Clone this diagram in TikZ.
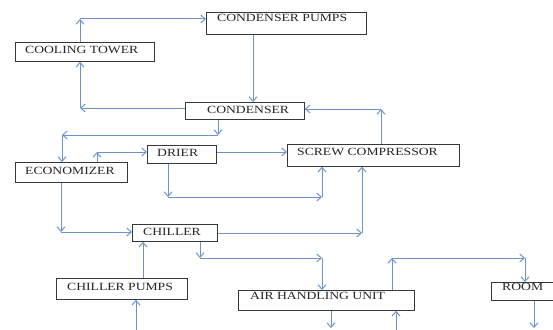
\documentclass[tikz,border=0pt]{standalone}
\usepackage{fontspec}
\setmainfont{Liberation Serif}[FakeStretch=1.24]
\usetikzlibrary{arrows.meta}
\definecolor{lc}{RGB}{110,148,204}
\definecolor{bc}{RGB}{55,55,55}
\tikzset{
  box/.style={draw=bc, line width=0.8pt, anchor=north west, inner sep=0pt},
  lbl/.style={anchor=base west, inner sep=0pt, text=black!85, font=\fontsize{11}{13}\selectfont},
  arr/.style={draw=lc, line width=1pt, -{Straight Barb[length=4.5pt,width=8pt]}}
}
\begin{document}
\begin{tikzpicture}[x=1pt,y=-1pt]
\useasboundingbox (0,0) rectangle (553,329);
\clip (0,0) rectangle (553,329);
\fill[white] (0,0) rectangle (553,329);
% boxes
\node[box, minimum width=160pt, minimum height=22pt] (cp) at (206,12) {};
\node[lbl] (cpt) at ([xshift=11pt,yshift=-10pt]cp.north west) {CONDENSER PUMPS};
\node[box, minimum width=139pt, minimum height=19pt] (ct) at (15,42) {};
\node[lbl] (ctt) at ([xshift=10pt,yshift=-11.5pt]ct.north west) {COOLING TOWER};
\node[box, minimum width=119pt, minimum height=17pt] (cond) at (185,102) {};
\node[lbl] (condt) at ([xshift=22pt,yshift=-11pt]cond.north west) {CONDENSER};
\node[box, minimum width=69pt, minimum height=18pt] (drier) at (147,145) {};
\node[lbl] (driert) at ([xshift=10pt,yshift=-11pt]drier.north west) {DRIER};
\node[box, minimum width=172pt, minimum height=22pt] (screw) at (287,144) {};
\node[lbl] (screwt) at ([xshift=10pt,yshift=-11.5pt]screw.north west) {SCREW COMPRESSOR};
\node[box, minimum width=112pt, minimum height=20pt] (econ) at (15,162) {};
\node[lbl] (econt) at ([xshift=10pt,yshift=-12.5pt]econ.north west) {ECONOMIZER};
\node[box, minimum width=85pt, minimum height=17pt] (chiller) at (132,224) {};
\node[lbl] (chillert) at ([xshift=11pt,yshift=-11pt]chiller.north west) {CHILLER};
\node[box, minimum width=131pt, minimum height=21pt] (cpumps) at (56,278) {};
\node[lbl] (cpumpst) at ([xshift=11pt,yshift=-12pt]cpumps.north west) {CHILLER PUMPS};
\node[box, minimum width=176pt, minimum height=20pt] (ahu) at (238,290) {};
\node[lbl] (ahut) at ([xshift=12pt,yshift=-9.5pt]ahu.north west) {AIR HANDLING UNIT};
\node[box, minimum width=80pt, minimum height=18pt] (room) at (491,282) {};
\node[lbl] (roomt) at ([xshift=11pt,yshift=-8.5pt]room.north west) {ROOM};
% connectors
\coordinate (a1) at (80,19);
\draw[arr] (ct.north -| a1) -- (a1);
\draw[arr] (a1) -- (cp.west |- a1);
\coordinate (a2) at (253,0);
\draw[arr] (cp.south -| a2) -- (cond.north -| a2);
\coordinate (a3) at (80,108);
\draw[arr] (cond.west |- a3) -- (a3);
\draw[arr] (a3) -- (ct.south -| a3);
\coordinate (a4) at (381,109);
\draw[arr] (screw.north -| a4) -- (a4);
\draw[arr] (a4) -- (cond.east |- a4);
\coordinate (a5) at (218,135);
\coordinate (a6) at (62,135);
\draw[arr] (cond.south -| a5) -- (a5);
\draw[arr] (a5) -- (a6);
\draw[arr] (a6) -- (econ.north -| a6);
\coordinate (a7) at (97,152);
\draw[arr] (econ.north -| a7) -- (a7);
\draw[arr] (a7) -- (drier.west |- a7);
\draw[arr] (drier.east |- a7) -- (screw.west |- a7);
\coordinate (a8) at (168,197);
\coordinate (a9) at (322,197);
\draw[arr] (drier.south -| a8) -- (a8);
\draw[arr] (a8) -- (a9);
\draw[arr] (a9) -- (screw.south -| a9);
\coordinate (a10) at (61,232);
\draw[arr] (econ.south -| a10) -- (a10);
\draw[arr] (a10) -- (chiller.west |- a10);
\coordinate (a11) at (362,233);
\draw[arr] (chiller.east |- a11) -- (a11);
\draw[arr] (a11) -- (screw.south -| a11);
\coordinate (a12) at (200,258);
\coordinate (a13) at (322,258);
\draw[arr] (chiller.south -| a12) -- (a12);
\draw[arr] (a12) -- (a13);
\draw[arr] (a13) -- (ahu.north -| a13);
\coordinate (a14) at (143,0);
\draw[arr] (cpumps.north -| a14) -- (chiller.south -| a14);
\coordinate (b1) at (136,345);
\draw[arr] (b1) -- (cpumps.south -| b1);
\coordinate (b2) at (331,328);
\draw[arr] (ahu.south -| b2) -- (b2);
\coordinate (b3) at (396,345);
\draw[arr] (b3) -- (ahu.south -| b3);
\coordinate (a15) at (392,258);
\coordinate (a16) at (525,258);
\draw[arr] (ahu.north -| a15) -- (a15);
\draw[arr] (a15) -- (a16);
\draw[arr] (a16) -- (room.north -| a16);
\coordinate (b4) at (534,328);
\draw[arr] (room.south -| b4) -- (b4);
\end{tikzpicture}
\end{document}
